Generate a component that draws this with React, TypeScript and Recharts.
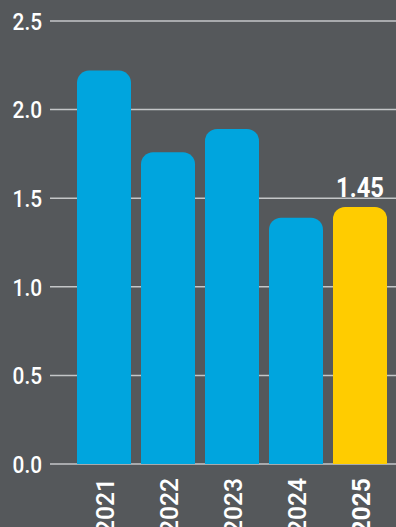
import { BarChart, Bar, XAxis, YAxis, CartesianGrid, Cell, LabelList } from "recharts";

const years = ["2021", "2022", "2023", "2024", "2025"];
const values = [2.22, 1.76, 1.89, 1.39, 1.45];
const yTicks = [0, 0.5, 1, 1.5, 2, 2.5];
const highlightYear = "2025";

const data = years.map((year, i) => ({ year, value: values[i] }));

const FONT = "Roboto, sans-serif";

// condensed look: squeeze glyphs horizontally
function YTick(props: any) {
  const { x, y, payload } = props;
  return (
    <g transform={`translate(${x}, ${y}) scale(0.85, 1)`}>
      <text
        x={0}
        y={0}
        dy="0.36em"
        textAnchor="end"
        fill="#ffffff"
        fontFamily={FONT}
        fontSize={24.5}
        fontWeight={500}
      >
        {payload.value.toFixed(1)}
      </text>
    </g>
  );
}

function YearTick(props: any) {
  const { x, y, payload } = props;
  const hl = payload.value === highlightYear;
  return (
    <g transform={`translate(${x + 9.5}, ${y + 6}) rotate(-90) scale(0.93, 1)`}>
      <text
        x={0}
        y={0}
        textAnchor="end"
        fill="#ffffff"
        fontFamily={FONT}
        fontSize={26.5}
        fontWeight={hl ? 700 : 500}
      >
        {payload.value}
      </text>
    </g>
  );
}

function ValueLabel(props: any) {
  const { x, y, width, value, index } = props;
  if (years[index] !== highlightYear) return null;
  return (
    <g transform={`translate(${x + width / 2}, ${y - 10}) scale(0.88, 1)`}>
      <text
        x={0}
        y={0}
        textAnchor="middle"
        fill="#ffffff"
        fontFamily={FONT}
        fontSize={27}
        fontWeight={700}
      >
        {value.toFixed(2)}
      </text>
    </g>
  );
}

export default function App() {
  return (
    <div style={{ position: "absolute", top: 0, left: 0, width: 396, height: 527, background: "#55585b" }}>
      <BarChart
        width={396}
        height={527}
        data={data}
        margin={{ top: 21, right: 0, left: 0, bottom: 0 }}
        barCategoryGap={5}
      >
        <CartesianGrid vertical={false} stroke="#c4c6c8" strokeWidth={1.5} />
        <XAxis
          dataKey="year"
          height={63}
          padding={{ left: 22, right: 4 }}
          axisLine={false}
          tickLine={false}
          tick={<YearTick />}
          interval={0}
        />
        <YAxis
          width={50}
          domain={[0, 2.5]}
          ticks={yTicks}
          axisLine={false}
          tickLine={false}
          tick={<YTick />}
        />
        <Bar dataKey="value" radius={[12, 12, 0, 0]} isAnimationActive={false}>
          {data.map((d) => (
            <Cell key={d.year} fill={d.year === highlightYear ? "#ffcc00" : "#00a5de"} />
          ))}
          <LabelList dataKey="value" content={<ValueLabel />} />
        </Bar>
      </BarChart>
    </div>
  );
}
